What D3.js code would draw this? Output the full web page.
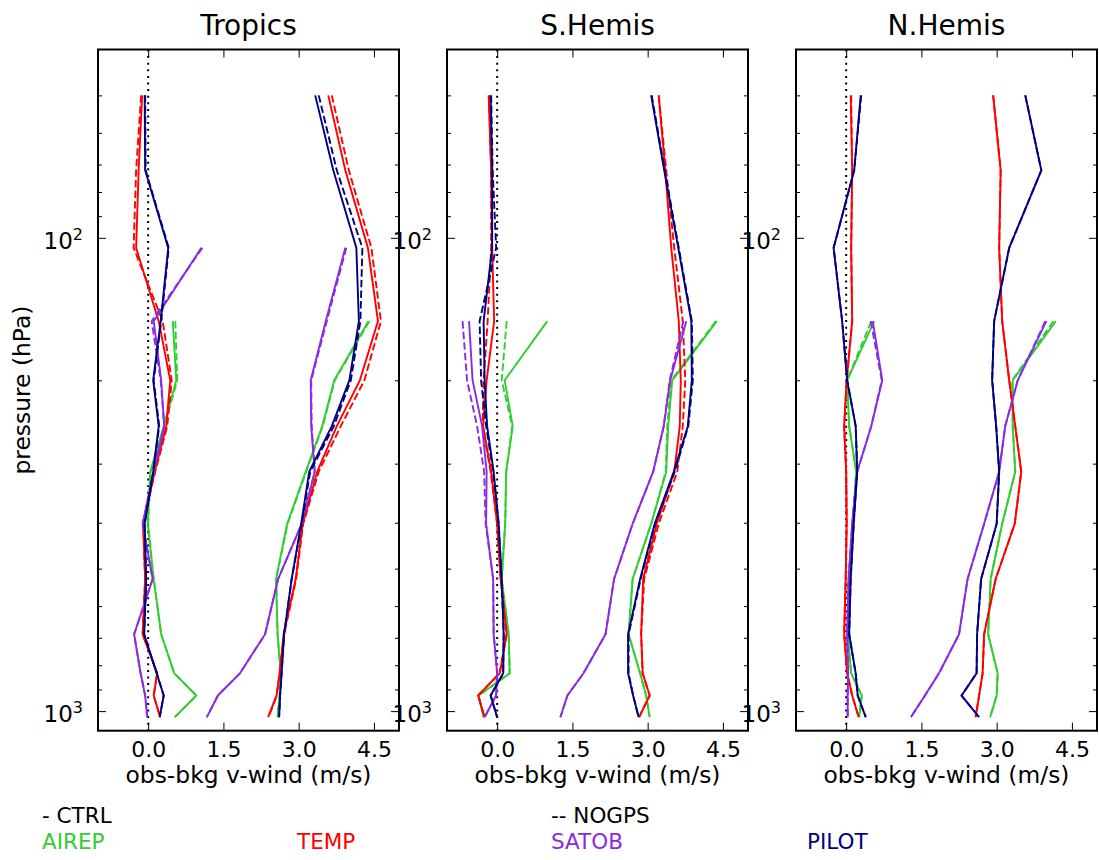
<!DOCTYPE html>
<html>
<head>
<meta charset="utf-8">
<script src="https://cdn.jsdelivr.net/npm/d3@7"></script>
<style>
  html, body { margin: 0; padding: 0; background: #fff; }
  svg { display: block; font-family: "DejaVu Sans", sans-serif; }
</style>
</head>
<body>
<svg id="chart" width="1099" height="860"></svg>
<script>
// Pressure levels (hPa) at which the statistics are given
const levels = [50, 72, 105, 150, 200, 250, 312, 402, 526, 688, 832, 927, 1030];

const regionNames = ["Tropics", "S.Hemis", "N.Hemis"];
const obsTypes = ["AIREP", "TEMP", "SATOB", "PILOT"];
const obsColors = ["#32cd32", "#ff0000", "#8a2be2", "#000080"];

const xTickValues = [0, 1.5, 3.0, 4.5];
const yMajorTicks = [100, 1000];
const yMajorExponents = ["2", "3"];
const yMinorTicks = [50, 60, 70, 80, 90, 200, 300, 400, 500, 600, 700, 800, 900];

const legendRuns = ["- CTRL", "-- NOGPS"];

const n = null;

// ---- Tropics ----
const tropicsCtrlBias = {
  AIREP: [n, n, n, 0.49, 0.56, 0.31, 0.04, -0.01, 0.11, 0.26, 0.52, 0.96, 0.53],
  TEMP:  [-0.12, -0.19, -0.24, 0.21, 0.44, 0.36, 0.13, -0.10, -0.06, -0.11, 0.18, 0.11, 0.24],
  SATOB: [n, n, 1.06, 0.11, 0.26, 0.32, 0.11, -0.11, 0.09, -0.28, -0.15, -0.06, -0.02],
  PILOT: [-0.07, -0.06, 0.40, 0.25, 0.10, 0.21, 0.10, -0.07, -0.04, -0.08, 0.17, 0.31, 0.23]
};
const tropicsNogpsBias = {
  AIREP: [n, n, n, 0.54, 0.58, 0.32, 0.05, 0.00, 0.11, 0.26, 0.52, 0.96, 0.53],
  TEMP:  [-0.14, -0.24, -0.29, 0.29, 0.47, 0.38, 0.14, -0.10, -0.06, -0.11, 0.18, 0.11, 0.24],
  SATOB: [n, n, 1.08, 0.07, 0.25, 0.32, 0.11, -0.11, 0.09, -0.28, -0.15, -0.06, -0.02],
  PILOT: [-0.06, -0.05, 0.41, 0.26, 0.11, 0.22, 0.10, -0.07, -0.04, -0.08, 0.17, 0.31, 0.23]
};
const tropicsCtrlStd = {
  AIREP: [n, n, n, 4.39, 3.71, 3.47, 3.14, 2.77, 2.55, 2.58, 2.64, 2.62, 2.58],
  TEMP:  [3.59, 3.93, 4.38, 4.58, 4.22, 3.76, 3.37, 3.08, 2.94, 2.70, 2.62, 2.56, 2.39],
  SATOB: [n, n, 3.93, 3.54, 3.24, 3.25, 3.32, 3.06, 2.59, 2.33, 1.83, 1.39, 1.17],
  PILOT: [3.33, 3.69, 4.15, 4.20, 4.01, 3.66, 3.21, 3.05, 2.86, 2.71, 2.66, 2.63, 2.61]
};
const tropicsNogpsStd = {
  AIREP: [n, n, n, 4.41, 3.72, 3.48, 3.15, 2.78, 2.55, 2.58, 2.64, 2.62, 2.58],
  TEMP:  [3.66, 4.00, 4.45, 4.64, 4.31, 3.84, 3.40, 3.09, 2.95, 2.71, 2.62, 2.56, 2.40],
  SATOB: [n, n, 3.95, 3.56, 3.25, 3.26, 3.32, 3.06, 2.59, 2.33, 1.83, 1.39, 1.17],
  PILOT: [3.40, 3.76, 4.27, 4.23, 4.04, 3.70, 3.23, 3.06, 2.86, 2.71, 2.66, 2.63, 2.61]
};

// ---- Southern hemisphere ----
const shemisCtrlBias = {
  AIREP: [n, n, n, 1.00, 0.15, 0.31, 0.18, 0.16, 0.09, 0.23, 0.25, -0.37, -0.27],
  TEMP:  [-0.17, -0.12, -0.10, -0.06, -0.21, -0.28, -0.12, 0.00, 0.07, 0.19, 0.05, -0.38, -0.25],
  SATOB: [n, n, n, -0.56, -0.49, -0.30, -0.21, -0.22, -0.08, -0.07, 0.00, -0.02, -0.25],
  PILOT: [-0.13, -0.10, -0.10, -0.27, -0.25, -0.20, -0.07, 0.03, 0.09, 0.13, 0.12, -0.13, 0.00]
};
const shemisNogpsBias = {
  AIREP: [n, n, n, 0.19, 0.09, 0.30, 0.18, 0.16, 0.09, 0.23, 0.25, -0.37, -0.27],
  TEMP:  [-0.16, -0.12, -0.12, -0.19, -0.27, -0.29, -0.13, 0.00, 0.07, 0.19, 0.05, -0.38, -0.25],
  SATOB: [n, n, n, -0.69, -0.60, -0.40, -0.26, -0.23, -0.08, -0.07, 0.00, -0.02, -0.25],
  PILOT: [-0.12, -0.09, -0.02, -0.35, -0.32, -0.22, -0.08, 0.03, 0.09, 0.13, 0.12, -0.13, 0.00]
};
const shemisCtrlStd = {
  AIREP: [n, n, n, 4.38, 3.49, 3.41, 3.37, 3.07, 2.70, 2.62, 2.85, 2.97, 3.04],
  TEMP:  [3.22, 3.35, 3.47, 3.62, 3.66, 3.64, 3.53, 3.18, 2.91, 2.87, 2.90, 3.04, 2.83],
  SATOB: [n, n, n, 3.77, 3.45, 3.32, 3.11, 2.70, 2.33, 2.16, 1.72, 1.40, 1.26],
  PILOT: [3.07, 3.33, 3.61, 3.87, 3.88, 3.80, 3.52, 3.14, 2.85, 2.61, 2.61, 2.71, 2.82]
};
const shemisNogpsStd = {
  AIREP: [n, n, n, 4.36, 3.47, 3.39, 3.36, 3.07, 2.70, 2.62, 2.85, 2.97, 3.04],
  TEMP:  [3.22, 3.37, 3.53, 3.70, 3.75, 3.70, 3.59, 3.22, 2.93, 2.87, 2.90, 3.04, 2.83],
  SATOB: [n, n, n, 3.71, 3.44, 3.32, 3.11, 2.70, 2.33, 2.16, 1.72, 1.40, 1.26],
  PILOT: [3.08, 3.34, 3.62, 3.88, 3.90, 3.81, 3.54, 3.15, 2.86, 2.62, 2.62, 2.71, 2.82]
};

// ---- Northern hemisphere ----
const nhemisCtrlBias = {
  AIREP: [n, n, n, 0.56, 0.02, 0.06, 0.20, 0.13, 0.05, 0.03, 0.10, 0.31, 0.26],
  TEMP:  [0.09, 0.12, 0.10, 0.12, 0.01, -0.04, 0.00, 0.01, -0.01, -0.04, 0.02, 0.12, 0.25],
  SATOB: [n, n, n, 0.53, 0.72, 0.50, 0.22, 0.12, 0.05, 0.02, 0.04, 0.03, 0.03],
  PILOT: [0.29, 0.16, -0.25, -0.08, 0.02, 0.19, 0.22, 0.15, 0.09, 0.06, 0.19, 0.23, 0.39]
};
const nhemisNogpsBias = {
  AIREP: [n, n, n, 0.50, 0.02, 0.06, 0.20, 0.13, 0.05, 0.03, 0.10, 0.31, 0.26],
  TEMP:  [0.10, 0.12, 0.10, 0.12, 0.01, -0.04, 0.00, 0.01, -0.01, -0.04, 0.02, 0.12, 0.25],
  SATOB: [n, n, n, 0.49, 0.71, 0.50, 0.22, 0.12, 0.05, 0.02, 0.04, 0.03, 0.03],
  PILOT: [0.30, 0.16, -0.25, -0.08, 0.02, 0.19, 0.22, 0.15, 0.09, 0.06, 0.19, 0.23, 0.39]
};
const nhemisCtrlStd = {
  AIREP: [n, n, n, 4.18, 3.32, 3.32, 3.37, 3.11, 2.88, 2.83, 3.02, 3.00, 2.87],
  TEMP:  [2.93, 3.08, 3.05, 3.11, 3.25, 3.37, 3.49, 3.36, 2.98, 2.75, 2.72, 2.65, 2.58],
  SATOB: [n, n, n, 3.99, 3.42, 3.17, 3.05, 2.75, 2.42, 2.25, 1.85, 1.57, 1.29],
  PILOT: [3.57, 3.89, 3.25, 2.95, 2.91, 2.99, 3.05, 3.00, 2.69, 2.61, 2.60, 2.30, 2.65]
};
const nhemisNogpsStd = {
  AIREP: [n, n, n, 4.13, 3.31, 3.32, 3.37, 3.11, 2.88, 2.83, 3.02, 3.00, 2.87],
  TEMP:  [2.93, 3.08, 3.05, 3.11, 3.25, 3.37, 3.49, 3.36, 2.98, 2.75, 2.72, 2.65, 2.58],
  SATOB: [n, n, n, 3.97, 3.42, 3.17, 3.05, 2.75, 2.42, 2.25, 1.85, 1.57, 1.29],
  PILOT: [3.57, 3.89, 3.25, 2.95, 2.91, 2.99, 3.05, 3.00, 2.69, 2.61, 2.60, 2.30, 2.65]
};

const panelData = [
  { ctrl: [tropicsCtrlBias, tropicsCtrlStd], nogps: [tropicsNogpsBias, tropicsNogpsStd] },
  { ctrl: [shemisCtrlBias, shemisCtrlStd],   nogps: [shemisNogpsBias, shemisNogpsStd] },
  { ctrl: [nhemisCtrlBias, nhemisCtrlStd],   nogps: [nhemisNogpsBias, nhemisNogpsStd] }
];

// ---- layout ----
const panelLefts = [98, 447, 796];
const panelWidth = 301;
const plotTop = 49.5;
const plotBottom = 730.7;
const fontFamily = '"DejaVu Sans", sans-serif';

const svg = d3.select("#chart");

const y = d3.scaleLog().domain([40, 1100]).range([plotTop, plotBottom]);

const line = (xs) => d3.line()
  .defined(d => d.v != null)
  .x(d => xs(d.v))
  .y(d => y(d.p));

const toPoints = arr => arr.map((v, i) => ({ p: levels[i], v: v }));

panelData.forEach((pd, pi) => {
  const left = panelLefts[pi];
  const right = left + panelWidth;
  const x = d3.scaleLinear().domain([-1, 5]).range([left, right]);
  const g = svg.append("g");

  // zero reference line
  g.append("line")
    .attr("x1", x(0)).attr("x2", x(0))
    .attr("y1", plotTop).attr("y2", plotBottom)
    .attr("stroke", "#000").attr("stroke-width", 2)
    .attr("stroke-dasharray", "2,4.6");

  // profiles: solid = CTRL, dashed = NOGPS
  obsTypes.forEach((ob, oi) => {
    const runs = [
      { sets: pd.ctrl, dash: null },
      { sets: pd.nogps, dash: "7.4,3.2" }
    ];
    runs.forEach(run => {
      run.sets.forEach(set => {
        g.append("path")
          .attr("d", line(x)(toPoints(set[ob])))
          .attr("fill", "none")
          .attr("stroke", obsColors[oi])
          .attr("stroke-width", 1.9)
          .attr("stroke-linejoin", "round")
          .attr("stroke-dasharray", run.dash);
      });
    });
  });

  // axes with inward ticks
  const bottomAxis = d3.axisBottom(x).tickValues(xTickValues).tickSize(-8)
    .tickPadding(10.5).tickFormat(d3.format(".1f"));
  const gb = g.append("g").attr("transform", `translate(0,${plotBottom})`).call(bottomAxis);
  gb.select(".domain").remove();
  gb.selectAll("text").attr("font-size", 22).attr("font-family", fontFamily).attr("fill", "#000");

  const topAxis = d3.axisTop(x).tickValues(xTickValues).tickSize(-8).tickFormat("");
  g.append("g").attr("transform", `translate(0,${plotTop})`).call(topAxis).select(".domain").remove();

  [[d3.axisLeft, left], [d3.axisRight, right]].forEach(([axisFn, xpos]) => {
    const major = axisFn(y).tickValues(yMajorTicks).tickSize(-8).tickFormat("");
    const minor = axisFn(y).tickValues(yMinorTicks).tickSize(-4).tickFormat("");
    g.append("g").attr("transform", `translate(${xpos},0)`).call(major).select(".domain").remove();
    g.append("g").attr("transform", `translate(${xpos},0)`).call(minor).select(".domain").remove();
  });
  g.selectAll(".tick line").attr("stroke", "#000").attr("stroke-width", 1);

  // frame
  g.append("rect")
    .attr("x", left).attr("y", plotTop)
    .attr("width", panelWidth).attr("height", plotBottom - plotTop)
    .attr("fill", "none").attr("stroke", "#000").attr("stroke-width", 2);

  // title
  svg.append("text")
    .attr("x", left + panelWidth / 2).attr("y", 35)
    .attr("text-anchor", "middle")
    .attr("font-size", 28).attr("font-family", fontFamily)
    .text(regionNames[pi]);

  // x label
  svg.append("text")
    .attr("x", left + panelWidth / 2).attr("y", 783)
    .attr("text-anchor", "middle")
    .attr("font-size", 23.4).attr("font-family", fontFamily)
    .text("obs-bkg v-wind (m/s)");

  // power-of-ten labels on the pressure axis
  yMajorTicks.forEach((t, ti) => {
    const txt = svg.append("text")
      .attr("x", left - 15).attr("y", y(t) + 11)
      .attr("text-anchor", "end")
      .attr("font-family", fontFamily);
    txt.append("tspan").attr("font-size", 23).text("10");
    txt.append("tspan").attr("font-size", 16).attr("dy", -9).text(yMajorExponents[ti]);
  });
});

// y label
svg.append("text")
  .attr("transform", `translate(30,${(plotTop + plotBottom) / 2}) rotate(-90)`)
  .attr("text-anchor", "middle")
  .attr("font-size", 23.4).attr("font-family", fontFamily)
  .text("pressure (hPa)");

// legend text: run styles on the first row, observation colours on the second
const legendRunX = [42, 551];
legendRuns.forEach((t, i) => {
  svg.append("text")
    .attr("x", legendRunX[i]).attr("y", 823)
    .attr("font-size", 21.5).attr("font-family", fontFamily)
    .attr("fill", "#000")
    .text(t);
});
const legendObsX = [42, 297, 551, 807];
obsTypes.forEach((t, i) => {
  svg.append("text")
    .attr("x", legendObsX[i]).attr("y", 849)
    .attr("font-size", 21.5).attr("font-family", fontFamily)
    .attr("fill", obsColors[i])
    .text(t);
});
</script>
</body>
</html>
